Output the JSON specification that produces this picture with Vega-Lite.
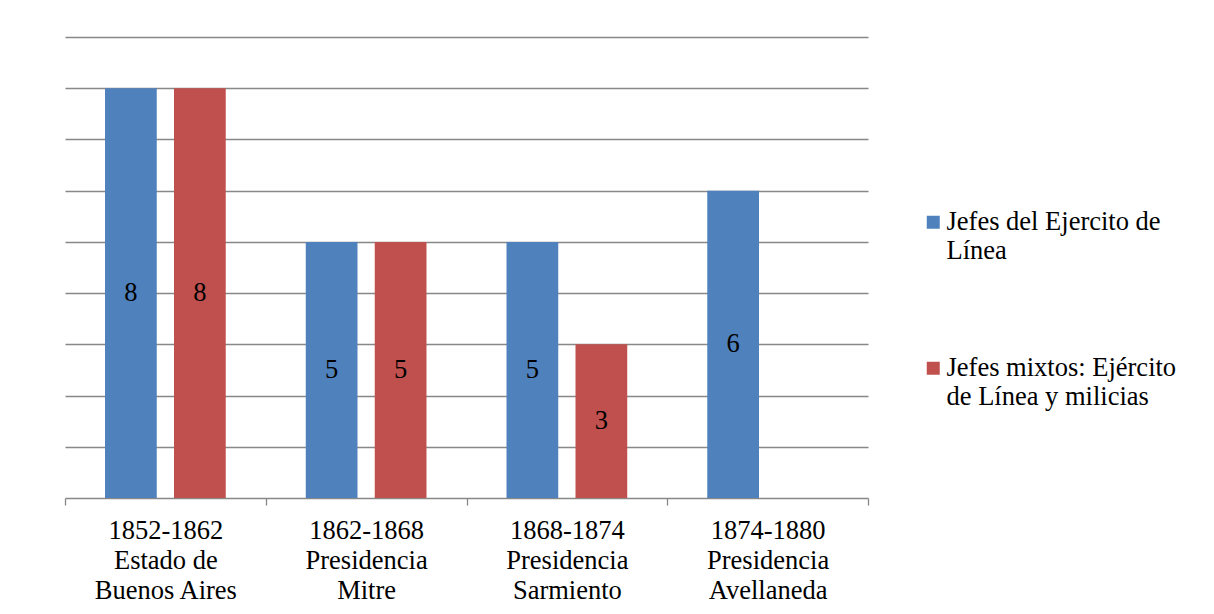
{
  "$schema": "https://vega.github.io/schema/vega-lite/v6.json",
  "width": 803,
  "height": 461,
  "autosize": {"type": "none"},
  "padding": {"left": 65, "top": 37, "right": 346, "bottom": 116},
  "background": "white",
  "config": {"view": {"stroke": null}, "font": "Liberation Serif"},
  "data": {"values": [
    {"period": "1852-1862\nEstado de\nBuenos Aires", "series": "Jefes del Ejercito de Línea", "value": 8},
    {"period": "1852-1862\nEstado de\nBuenos Aires", "series": "Jefes mixtos: Ejército de Línea y milicias", "value": 8},
    {"period": "1862-1868\nPresidencia\nMitre", "series": "Jefes del Ejercito de Línea", "value": 5},
    {"period": "1862-1868\nPresidencia\nMitre", "series": "Jefes mixtos: Ejército de Línea y milicias", "value": 5},
    {"period": "1868-1874\nPresidencia\nSarmiento", "series": "Jefes del Ejercito de Línea", "value": 5},
    {"period": "1868-1874\nPresidencia\nSarmiento", "series": "Jefes mixtos: Ejército de Línea y milicias", "value": 3},
    {"period": "1874-1880\nPresidencia\nAvellaneda", "series": "Jefes del Ejercito de Línea", "value": 6}
  ]},
  "encoding": {
    "x": {
      "field": "period", "type": "nominal", "sort": null,
      "scale": {"paddingInner": 0, "paddingOuter": 0},
      "axis": {
        "title": null, "tickBand": "extent", "tickSize": 7, "tickColor": "#888888", "tickWidth": 1.3,
        "domainColor": "#888888", "domainWidth": 1.3, "labelAngle": 0, "labelFontSize": 26.5,
        "labelColor": "black", "labelFont": "Liberation Serif", "labelLineHeight": 30,
        "labelPadding": 12, "labelBaseline": "top", "grid": false,
        "labelExpr": "datum.value ? split(datum.value, '\\n') : ''"
      }
    },
    "xOffset": {
      "field": "series", "type": "nominal", "sort": null,
      "scale": {"domain": ["Jefes del Ejercito de Línea", "Jefes mixtos: Ejército de Línea y milicias"], "paddingInner": 0.25, "paddingOuter": 0.58}
    }
  },
  "layer": [
    {
      "mark": {"type": "bar"},
      "encoding": {
        "y": {
          "field": "value", "type": "quantitative", "scale": {"domain": [0, 9], "nice": false},
          "axis": {"title": null, "labels": false, "ticks": false, "domain": false, "grid": true,
                   "gridColor": "#888888", "gridWidth": 1.3, "values": [1, 2, 3, 4, 5, 6, 7, 8, 9]}
        },
        "color": {
          "field": "series", "type": "nominal",
          "scale": {"domain": ["Jefes del Ejercito de Línea", "Jefes mixtos: Ejército de Línea y milicias"], "range": ["#4F81BD", "#C0504D"]},
          "legend": {
            "title": null, "orient": "none", "legendX": 855, "legendY": 172, "padding": 0,
            "symbolType": "square", "symbolSize": 169, "symbolStrokeWidth": 0, "symbolOpacity": 1,
            "labelFontSize": 26.5, "labelFont": "Liberation Serif", "labelColor": "black",
            "labelOffset": 0, "labelLineHeight": 30, "labelBaseline": "middle", "rowPadding": 90,
            "labelLimit": 400,
            "labelExpr": "datum.value == 'Jefes del Ejercito de Línea' ? ['Jefes del Ejercito de', 'Línea'] : ['Jefes mixtos: Ejército', 'de Línea y milicias']"
          }
        }
      }
    },
    {
      "mark": {"type": "text", "fontSize": 26.5, "font": "Liberation Serif", "baseline": "middle", "align": "center", "color": "black"},
      "encoding": {
        "y": {"field": "value", "type": "quantitative", "scale": {"domain": [0, 18], "nice": false}, "axis": null},
        "text": {"field": "value", "type": "quantitative"}
      }
    }
  ],
  "resolve": {"scale": {"y": "independent"}}
}
